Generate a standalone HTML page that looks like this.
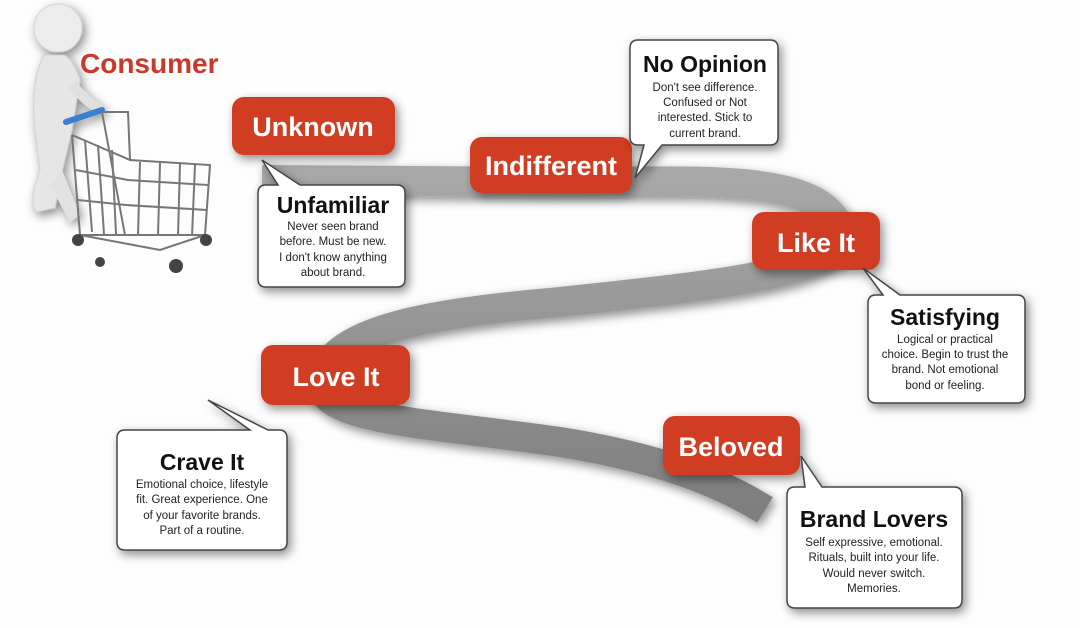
<!DOCTYPE html>
<html><head><meta charset="utf-8"><style>
html,body{margin:0;padding:0;background:#fdfdfe;}
svg{display:block;font-family:"Liberation Sans",Arial,sans-serif;}
</style></head><body>
<svg width="1080" height="628" viewBox="0 0 1080 628">
<defs>
<filter id="sh" x="-20%" y="-20%" width="140%" height="150%"><feGaussianBlur in="SourceAlpha" stdDeviation="5"/><feOffset dx="3" dy="4"/><feComponentTransfer><feFuncA type="linear" slope="0.45"/></feComponentTransfer><feMerge><feMergeNode/><feMergeNode in="SourceGraphic"/></feMerge></filter>
<linearGradient id="rb" x1="0" y1="0" x2="0" y2="1"><stop offset="0" stop-color="#a8a8a8"/><stop offset="1" stop-color="#7e7e7e"/></linearGradient>
</defs>
<rect width="1080" height="628" fill="#fdfdfe"/>
<!-- ribbon -->
<path d="M262,180 L560,182 C700,182 820,172 840,230 C850,272 720,285 560,302 C420,314 330,332 322,380 C318,420 420,422 560,442 C660,458 720,482 765,510" fill="none" stroke="url(#rb)" stroke-width="30" filter="url(#sh)"/>
<!-- stick figure + cart -->
<g filter="url(#sh)">
<circle cx="58" cy="28" r="24" fill="#ececec" stroke="#d4d4d4"/>
<path d="M44,55 Q30,80 35,130 L40,170 Q28,200 36,212 L55,208 L62,172 L72,130 L80,80 Q74,60 64,55Z" fill="#e6e6e6" stroke="#d0d0d0"/>
<path d="M62,170 L80,215 L70,222 L50,185Z" fill="#e2e2e2"/>
<path d="M72,85 Q85,100 100,110" stroke="#e0e0e0" stroke-width="10" fill="none"/>
<line x1="66" y1="122" x2="102" y2="110" stroke="#3a7fd0" stroke-width="6" stroke-linecap="round"/>
</g>
<g stroke="#777" stroke-width="2" fill="none">
<path d="M102,112 L128,112 L130,160 L210,165 L205,235 L125,235 Z"/>
<path d="M72,135 L130,160 M72,135 L80,235 L125,235 M80,235 L160,250 L205,235"/>
<path d="M85,140 L92,232 M98,145 L104,234 M112,150 L116,234 M140,162 L138,236 M160,163 L158,236 M180,164 L178,236 M195,165 L192,236"/>
<path d="M76,170 L128,180 L208,185 M78,200 L126,205 L207,210"/>
</g>
<g fill="#444"><circle cx="78" cy="240" r="6"/><circle cx="206" cy="240" r="6"/><circle cx="176" cy="266" r="7"/><circle cx="100" cy="262" r="5"/></g>
<text x="80" y="73" font-size="28" font-weight="bold" fill="#c9392a">Consumer</text>
<!-- red labels -->
<g filter="url(#sh)" fill="#d13c22">
<rect x="232" y="97" width="163" height="58" rx="12"/>
<rect x="470" y="137" width="162" height="56" rx="12"/>
<rect x="752" y="212" width="128" height="58" rx="12"/>
<rect x="261" y="345" width="149" height="60" rx="12"/>
<rect x="663" y="416" width="137" height="59" rx="12"/>
</g>
<g fill="#fff" font-size="27" font-weight="bold" text-anchor="middle">
<text x="313" y="136">Unknown</text>
<text x="551" y="175">Indifferent</text>
<text x="816" y="252">Like It</text>
<text x="336" y="386">Love It</text>
<text x="731" y="456">Beloved</text>
</g>
<!-- callouts -->
<g fill="#fff" stroke="#444" stroke-width="1.5" filter="url(#sh)">
<path d="M266,185 L278,185 L262,160 L300,185 L397,185 Q405,185 405,193 L405,279 Q405,287 397,287 L266,287 Q258,287 258,279 L258,193 Q258,185 266,185Z"/>
<path d="M638,40 L770,40 Q778,40 778,48 L778,137 Q778,145 770,145 L662,145 L635,178 L644,145 L638,145 Q630,145 630,137 L630,48 Q630,40 638,40Z"/>
<path d="M876,295 L883,295 L863,268 L900,295 L1017,295 Q1025,295 1025,303 L1025,395 Q1025,403 1017,403 L876,403 Q868,403 868,395 L868,303 Q868,295 876,295Z"/>
<path d="M125,430 L250,430 L208,400 L268,430 L279,430 Q287,430 287,438 L287,542 Q287,550 279,550 L125,550 Q117,550 117,542 L117,438 Q117,430 125,430Z"/>
<path d="M795,487 L805,487 L801,456 L822,487 L954,487 Q962,487 962,495 L962,600 Q962,608 954,608 L795,608 Q787,608 787,600 L787,495 Q787,487 795,487Z"/>
</g>
<g text-anchor="middle" fill="#222">
<g font-size="23" font-weight="bold" fill="#111">
<text x="333" y="213">Unfamiliar</text>
<text x="705" y="72">No Opinion</text>
<text x="945" y="325">Satisfying</text>
<text x="202" y="470">Crave It</text>
<text x="874" y="527">Brand Lovers</text>
</g>
<g font-size="11.5">
<text x="333" y="230">Never seen brand</text><text x="333" y="245">before. Must be new.</text><text x="333" y="261">I don't know anything</text><text x="333" y="276">about brand.</text>
<text x="705" y="91">Don't see difference.</text><text x="705" y="106">Confused or Not</text><text x="705" y="121">interested. Stick to</text><text x="705" y="137">current brand.</text>
<text x="945" y="343">Logical or practical</text><text x="945" y="358">choice. Begin to trust the</text><text x="945" y="373">brand. Not emotional</text><text x="945" y="389">bond or feeling.</text>
<text x="202" y="488">Emotional choice, lifestyle</text><text x="202" y="503">fit. Great experience. One</text><text x="202" y="519">of your favorite brands.</text><text x="202" y="534">Part of a routine.</text>
<text x="874" y="546">Self expressive, emotional.</text><text x="874" y="561">Rituals, built into your life.</text><text x="874" y="577">Would never switch.</text><text x="874" y="592">Memories.</text>
</g>
</g>
</svg>
</body></html>
